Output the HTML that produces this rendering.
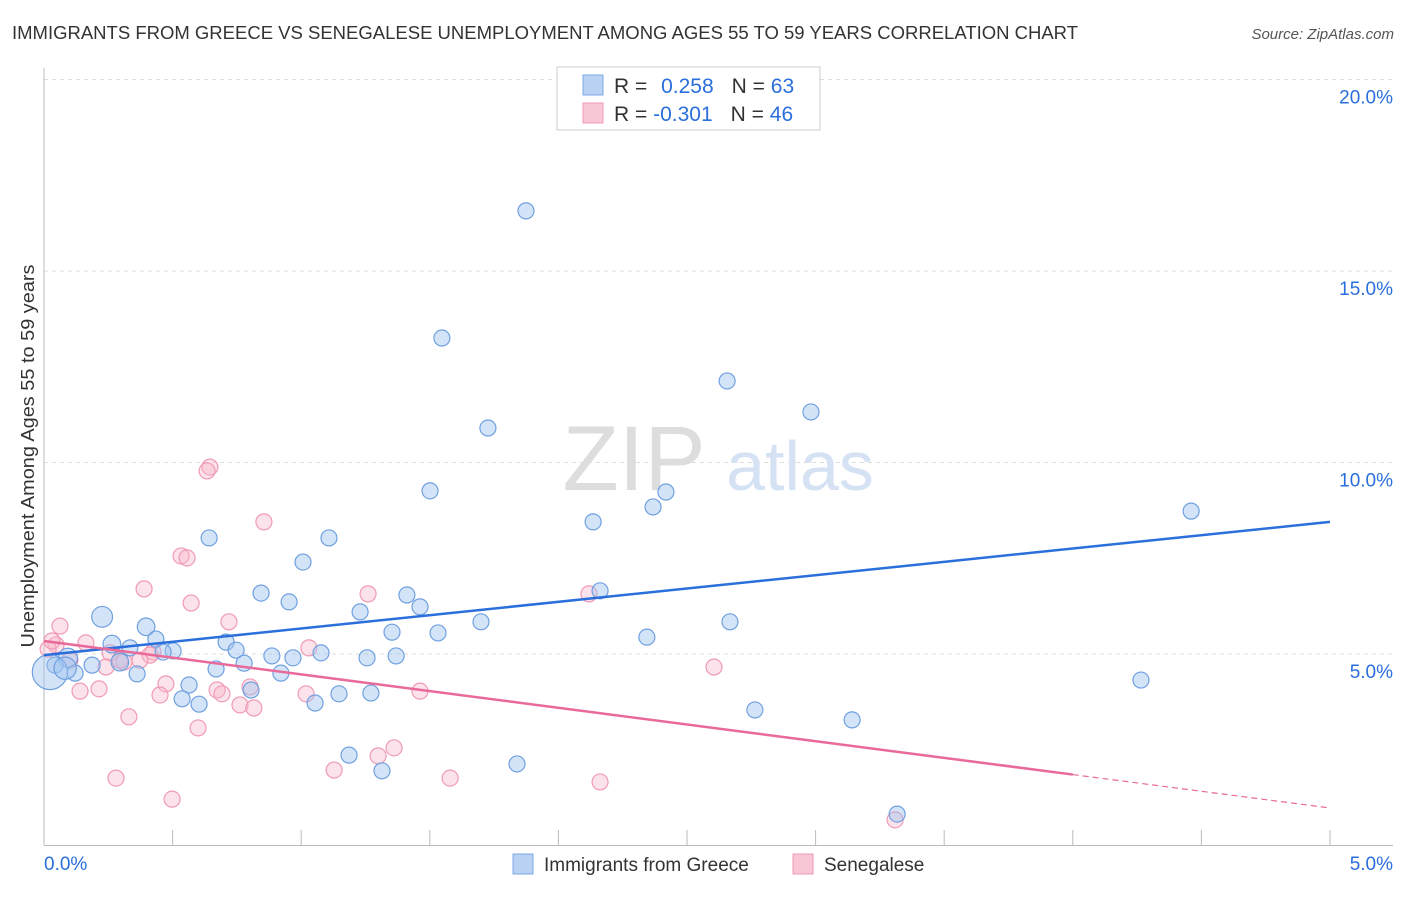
<!DOCTYPE html>
<html><head><meta charset="utf-8">
<style>
body{margin:0;background:#fff;font-family:"Liberation Sans",sans-serif;}
svg text{font-family:"Liberation Sans",sans-serif;}
</style></head>
<body>
<svg id="chart" width="1406" height="892" xmlns="http://www.w3.org/2000/svg">
<text x="12" y="39" font-size="18" fill="#333" textLength="1066" lengthAdjust="spacingAndGlyphs">IMMIGRANTS FROM GREECE VS SENEGALESE UNEMPLOYMENT AMONG AGES 55 TO 59 YEARS CORRELATION CHART</text>
<text x="1394" y="39" font-size="15" fill="#555" font-style="italic" text-anchor="end">Source: ZipAtlas.com</text>
<g id="grid"></g>
<g id="watermark">
<text x="634" y="490" font-size="92" fill="#ddd" font-family="Liberation Serif" text-anchor="middle">ZIP</text>
<text x="800" y="490" font-size="70" fill="#d5e2f4" text-anchor="middle">atlas</text>
</g>
<g id="axes"></g>
<g id="pts"></g>
<g id="lines"></g>
<text transform="translate(34,456) rotate(-90)" font-size="18" fill="#333" text-anchor="middle" textLength="383" lengthAdjust="spacingAndGlyphs">Unemployment Among Ages 55 to 59 years</text>
<g>
<rect x="557" y="67" width="263" height="63" fill="#fff" stroke="#ccc"/>
<rect x="583" y="75" width="20" height="20" fill="#b9d2f4" stroke="#7aa8e4"/>
<rect x="583" y="103" width="20" height="20" fill="#f9c6d5" stroke="#f09ab5"/>
<text x="614" y="93" font-size="21" fill="#333">R = <tspan fill="#2a6fdb" dx="8">0.258</tspan><tspan dx="18" fill="#333">N = </tspan><tspan fill="#2a6fdb">63</tspan></text>
<text x="614" y="121" font-size="21" fill="#333">R = <tspan fill="#2a6fdb">-0.301</tspan><tspan dx="18" fill="#333">N = </tspan><tspan fill="#2a6fdb">46</tspan></text>
</g>
<g>
<rect x="513" y="854" width="20" height="20" fill="#b9d2f4" stroke="#7aa8e4"/>
<text x="544" y="871" font-size="19" fill="#333">Immigrants from Greece</text>
<rect x="793" y="854" width="20" height="20" fill="#f9c6d5" stroke="#f09ab5"/>
<text x="824" y="871" font-size="19" fill="#333">Senegalese</text>
</g>
</svg>
<script>
const yTicks=[5,10,15,20];
const yTickLabels=["5.0%","10.0%","15.0%","20.0%"];
const xTicks=[0,0.5,1,1.5,2,2.5,3,3.5,4,4.5,5];
const blueX=[1.874,1.547,2.656,1.726,2.982,1.501,2.418,2.368,2.135,4.460,0.642,1.108,1.007,2.162,0.844,1.411,0.953,1.229,1.462,0.226,1.699,2.667,0.397,1.353,1.532,2.344,0.435,0.264,0.708,0.334,0.502,0.747,0.463,1.077,0.093,0.886,0.968,1.256,1.369,0.778,0.187,0.295,0.669,0.043,0.121,0.362,0.921,0.023,0.564,0.805,1.147,1.271,0.537,0.603,1.054,2.764,3.142,4.265,1.186,1.839,1.314,3.317,0.082];
const blueY=[16.57,13.25,12.13,10.90,11.32,9.26,9.23,8.84,8.45,8.73,8.03,8.03,7.40,6.65,6.59,6.54,6.36,6.10,6.23,5.97,5.84,5.84,5.71,5.57,5.55,5.44,5.39,5.26,5.31,5.16,5.08,5.10,5.05,5.03,4.90,4.95,4.90,4.90,4.95,4.76,4.71,4.79,4.61,4.71,4.50,4.48,4.50,4.53,4.19,4.06,3.96,3.98,3.83,3.69,3.72,3.54,3.28,4.32,2.36,2.13,1.95,0.82,4.63];
const blueSize=[1,1,1,1,1,1,1,1,1,1,1,1,1,1,1,1,1,1,1,1.3,1,1,1.1,1,1,1,1,1.1,1,1,1,1,1,1,1.2,1,1,1,1,1,1,1.1,1,1,1,1,1,2.2,1,1,1,1,1,1,1,1,1,1,1,1,1,1,1.4];
const pinkX=[0.062,0.047,0.163,0.016,0.257,0.424,0.311,0.241,0.645,0.634,0.855,0.533,0.556,0.389,1.260,2.119,0.572,0.719,1.030,0.412,2.605,0.474,0.214,0.140,0.451,0.673,0.692,0.801,1.019,1.462,0.762,0.816,0.330,0.599,1.361,1.299,1.128,0.280,1.579,2.162,0.498,3.309,0.031,0.101,0.295,0.373];
const pinkY=[5.73,5.24,5.29,5.13,5.03,5.05,4.79,4.66,9.88,9.78,8.45,7.56,7.51,6.70,6.57,6.57,6.33,5.84,5.16,4.97,4.66,4.22,4.09,4.03,3.93,4.06,3.96,4.14,3.96,4.03,3.67,3.59,3.36,3.07,2.55,2.34,1.97,1.76,1.76,1.66,1.21,0.67,5.34,4.84,4.84,4.84];
const blueTrend=[4.97,8.45];
const pinkTrend=[5.34,0.98];
const pinkSolidEnd=4.0;

const X=v=>44+v*257.2, Y=v=>845.5-v*38.3;
const NS="http://www.w3.org/2000/svg";
function mk(tag,attrs,parent){const e=document.createElementNS(NS,tag);for(const k in attrs)e.setAttribute(k,attrs[k]);parent.appendChild(e);return e;}
const grid=document.getElementById('grid'),axes=document.getElementById('axes'),pts=document.getElementById('pts'),lines=document.getElementById('lines');
yTicks.forEach((t,i)=>{
 const l=mk('line',{x1:44,x2:1393,y1:Y(t),y2:Y(t),stroke:'#ddd','stroke-dasharray':'4,4'},grid);
 
 
 const tx=mk('text',{x:1393,y:Y(t)+24,'font-size':19,fill:'#2a6fdb','text-anchor':'end'},axes);
 tx.textContent=yTickLabels[i];
 
 
});
const ax=mk('line',{x1:44,x2:1393,y1:845.5,y2:845.5,stroke:'#bbb'},axes);


const ay=mk('line',{x1:44,x2:44,y1:68,y2:845.5,stroke:'#bbb'},axes);


xTicks.forEach(t=>{
 const l=mk('line',{x1:X(t),x2:X(t),y1:830,y2:845.5,stroke:'#bbb'},axes);
 
 
});
const xl0=mk('text',{x:44,y:870,'font-size':19,fill:'#2a6fdb'},axes);xl0.textContent='0.0%';


const xl1=mk('text',{x:1393,y:870,'font-size':19,fill:'#2a6fdb','text-anchor':'end'},axes);xl1.textContent='5.0%';


pinkX.forEach((v,i)=>{
 const c=mk('circle',{cx:X(v),cy:Y(pinkY[i]),r:8,fill:'rgba(248,182,202,0.4)',stroke:'#f09ab5','stroke-width':1.2},pts);
 
 
});
blueX.forEach((v,i)=>{
 const c=mk('circle',{cx:X(v),cy:Y(blueY[i]),r:8*blueSize[i],fill:'rgba(160,196,240,0.45)',stroke:'#6fa0e0','stroke-width':1.2},pts);
 
 
});
const bl=mk('line',{x1:X(0),y1:Y(blueTrend[0]),x2:X(5),y2:Y(blueTrend[1]),stroke:'#2a6fdb','stroke-width':2.5},lines);


const pAt=x=>pinkTrend[0]+(pinkTrend[1]-pinkTrend[0])*x/5;
const pl=mk('line',{x1:X(0),y1:Y(pAt(0)),x2:X(pinkSolidEnd),y2:Y(pAt(pinkSolidEnd)),stroke:'#e8699a','stroke-width':2.5},lines);


const pd=mk('line',{x1:X(pinkSolidEnd),y1:Y(pAt(pinkSolidEnd)),x2:X(5),y2:Y(pAt(5)),stroke:'#e8699a','stroke-width':1.2,'stroke-dasharray':'6,4'},lines);


</script>
</body></html>
